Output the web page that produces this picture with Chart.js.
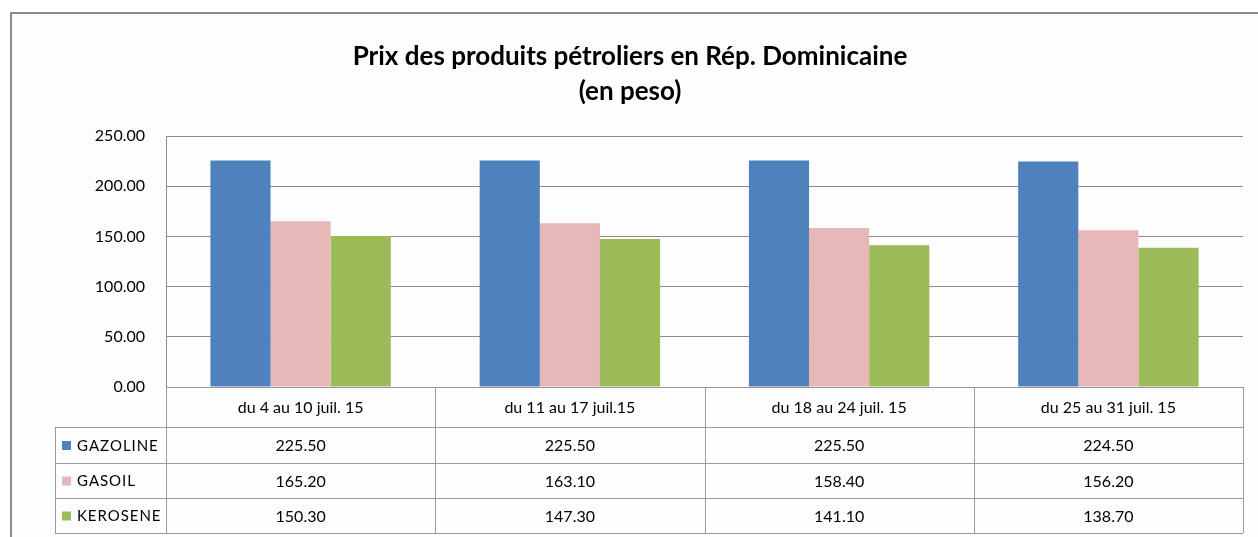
<!DOCTYPE html>
<html>
<head>
<meta charset="utf-8">
<script src="https://cdn.jsdelivr.net/npm/chart.js@4.4.0/dist/chart.umd.min.js"></script>
<style>
  html, body { margin: 0; padding: 0; background: #fff; }
  #wrap { width: 1258px; height: 537px; }
</style>
</head>
<body>
<div id="wrap"><canvas id="prix" width="1258" height="537"></canvas></div>
<script>
const categories = ['du 4 au 10 juil. 15', 'du 11 au 17 juil.15', 'du 18 au 24 juil. 15', 'du 25 au 31 juil. 15'];
const gazoline = [225.50, 225.50, 225.50, 224.50];
const gasoil = [165.20, 163.10, 158.40, 156.20];
const kerosene = [150.30, 147.30, 141.10, 138.70];
const yTicks = [0, 50, 100, 150, 200, 250];
const titleLines = ['Prix des produits pétroliers en Rép. Dominicaine', '(en peso)'];

const FONT = "Lato, 'Open Sans', sans-serif";
const lineCol = '#9a9a9a';

// cadre extérieur + titre
const framePlugin = {
  id: 'frame',
  beforeDraw(chart) {
    const c = chart.ctx;
    c.save();
    c.fillStyle = '#ffffff';
    c.fillRect(0, 0, chart.width, chart.height);
    c.fillStyle = '#fdfdfd';
    c.fillRect(11, 13, chart.width, chart.height);
    c.strokeStyle = '#8a8a8a';
    c.lineWidth = 2;
    c.strokeRect(11, 13, chart.width + 20, chart.height + 20);
    c.fillStyle = '#000';
    c.font = "bold 26px " + FONT;
    c.textAlign = 'center';
    c.textBaseline = 'middle';
    c.fillText(titleLines[0], 630, 57);
    c.fillText(titleLines[1], 630, 92);
    c.restore();
  }
};

// tableau de données sous le graphique
const tablePlugin = {
  id: 'dataTable',
  afterDraw(chart) {
    const c = chart.ctx;
    const area = chart.chartArea;
    const x = chart.scales.x;
    const n = categories.length;
    const colW = (area.right - area.left) / n;
    const top = area.bottom;
    const rows = [top, top + 40, top + 76, top + 111, top + 146];
    const legendLeft = 55;
    c.save();
    c.strokeStyle = lineCol;
    c.lineWidth = 1;
    c.beginPath();
    // horizontales
    c.moveTo(area.left, rows[0] + 0.5); c.lineTo(area.right, rows[0] + 0.5);
    for (let r = 1; r < rows.length; r++) {
      c.moveTo(legendLeft, rows[r] + 0.5); c.lineTo(area.right, rows[r] + 0.5);
    }
    // verticales
    c.moveTo(legendLeft + 0.5, rows[1]); c.lineTo(legendLeft + 0.5, rows[4]);
    for (let i = 0; i <= n; i++) {
      const px = Math.round(area.left + i * colW) + 0.5;
      c.moveTo(px, rows[0]); c.lineTo(px, rows[4]);
    }
    c.stroke();

    c.fillStyle = '#000';
    c.font = "16px " + FONT;
    c.textAlign = 'center';
    c.textBaseline = 'middle';
    categories.forEach((cat, i) => {
      c.fillText(cat, x.getPixelForValue(i), (rows[0] + rows[1]) / 2 + 1);
    });
    chart.data.datasets.forEach((ds, d) => {
      const cy = (rows[d + 1] + rows[d + 2]) / 2 + 1;
      c.textAlign = 'center';
      ds.data.forEach((v, i) => {
        c.fillText(v.toFixed(2), x.getPixelForValue(i), cy);
      });
      c.fillStyle = ds.backgroundColor;
      c.fillRect(62, cy - 5, 9, 9);
      c.fillStyle = '#000';
      c.textAlign = 'left';
      c.font = "15px " + FONT;
      c.fillText(ds.label.split('').join(String.fromCharCode(8202)), 77, cy);
      c.font = "16px " + FONT;
    });
    c.restore();
  }
};

new Chart(document.getElementById('prix'), {
  type: 'bar',
  data: {
    labels: categories,
    datasets: [
      { label: 'GAZOLINE', data: gazoline, backgroundColor: '#4f81bd' },
      { label: 'GASOIL', data: gasoil, backgroundColor: '#e6b9b8' },
      { label: 'KEROSENE', data: kerosene, backgroundColor: '#9bbb59' }
    ]
  },
  options: {
    responsive: false,
    animation: false,
    layout: { padding: { left: 0, right: 15, top: 136, bottom: 150 } },
    datasets: { bar: { barPercentage: 1, categoryPercentage: 0.67 } },
    plugins: {
      legend: { display: false },
      title: { display: false },
      tooltip: { enabled: false }
    },
    scales: {
      x: { display: false },
      y: {
        min: 0, max: 250,
        afterFit(scale) { scale.width = 166; },
        afterBuildTicks(scale) { scale.ticks = yTicks.map(v => ({ value: v })); },
        ticks: {
          color: '#000',
          padding: 21,
          font: { family: FONT, size: 16 },
          callback: v => Number(v).toFixed(2)
        },
        grid: { color: '#8c8c8c', drawTicks: false },
        border: { color: '#8c8c8c' }
      }
    }
  },
  plugins: [framePlugin, tablePlugin]
});
</script>
</body>
</html>
